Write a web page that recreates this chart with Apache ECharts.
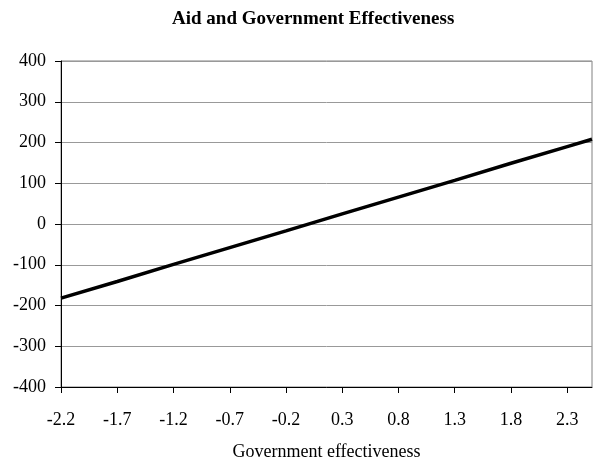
<!DOCTYPE html>
<html>
<head>
<meta charset="utf-8">
<script src="https://cdn.jsdelivr.net/npm/echarts@6/dist/echarts.min.js"></script>
<style>
html,body{margin:0;padding:0;background:#fff;}
#chart{width:600px;height:468px;}
</style>
</head>
<body>
<div id="chart"></div>
<script>
var titleText = 'Aid and Government Effectiveness';
var xAxisName = 'Government effectiveness';
var xTickValues = [-2.2, -1.7, -1.2, -0.7, -0.2, 0.3, 0.8, 1.3, 1.8, 2.3];
var govEff = [-2.2, -1.7, -1.2, -0.7, -0.2, 0.3, 0.8, 1.3, 1.8, 2.3, 2.52];
var aid = [-182, -141, -99, -58, -17, 25, 66, 107, 149, 190, 208];

var FONT = 'Liberation Serif, Times New Roman, serif';
var chart = echarts.init(document.getElementById('chart'), null, {renderer: 'canvas'});
var seriesData = govEff.map(function (x, i) { return [x, aid[i]]; });

chart.setOption({
  animation: false,
  backgroundColor: '#ffffff',
  title: {
    text: titleText,
    left: 167,
    top: 5,
    textStyle: {fontFamily: FONT, fontSize: 19, fontWeight: 'bold', color: '#000'}
  },
  grid: {
    left: 61, right: 8, top: 61, bottom: 81,
    show: true, borderColor: '#808080', borderWidth: 1, backgroundColor: '#fff'
  },
  xAxis: {
    type: 'value',
    min: -2.2,
    max: 2.52,
    name: xAxisName,
    nameLocation: 'middle',
    nameGap: 56,
    nameTextStyle: {fontFamily: FONT, fontSize: 18, color: '#000'},
    axisLine: {show: true, onZero: false, lineStyle: {color: '#000', width: 1}},
    axisTick: {show: true, length: 6, inside: false, customValues: xTickValues, lineStyle: {color: '#000'}},
    axisLabel: {
      customValues: xTickValues,
      margin: 24,
      fontFamily: FONT, fontSize: 18, color: '#000',
      formatter: function (v) { return String(Math.round(v * 10) / 10); }
    },
    splitLine: {show: false}
  },
  yAxis: {
    type: 'value',
    min: -400,
    max: 400,
    interval: 100,
    axisLine: {show: true, onZero: false, lineStyle: {color: '#000', width: 1}},
    axisTick: {show: true, length: 6, inside: false, lineStyle: {color: '#000'}},
    axisLabel: {margin: 15, fontFamily: FONT, fontSize: 18, color: '#000'},
    splitLine: {show: true, lineStyle: {color: '#999999', width: 1}}
  },
  series: [{
    type: 'line',
    data: seriesData,
    showSymbol: false,
    symbol: 'none',
    lineStyle: {color: '#000', width: 3.5},
    z: 5
  }]
});
</script>
</body>
</html>
